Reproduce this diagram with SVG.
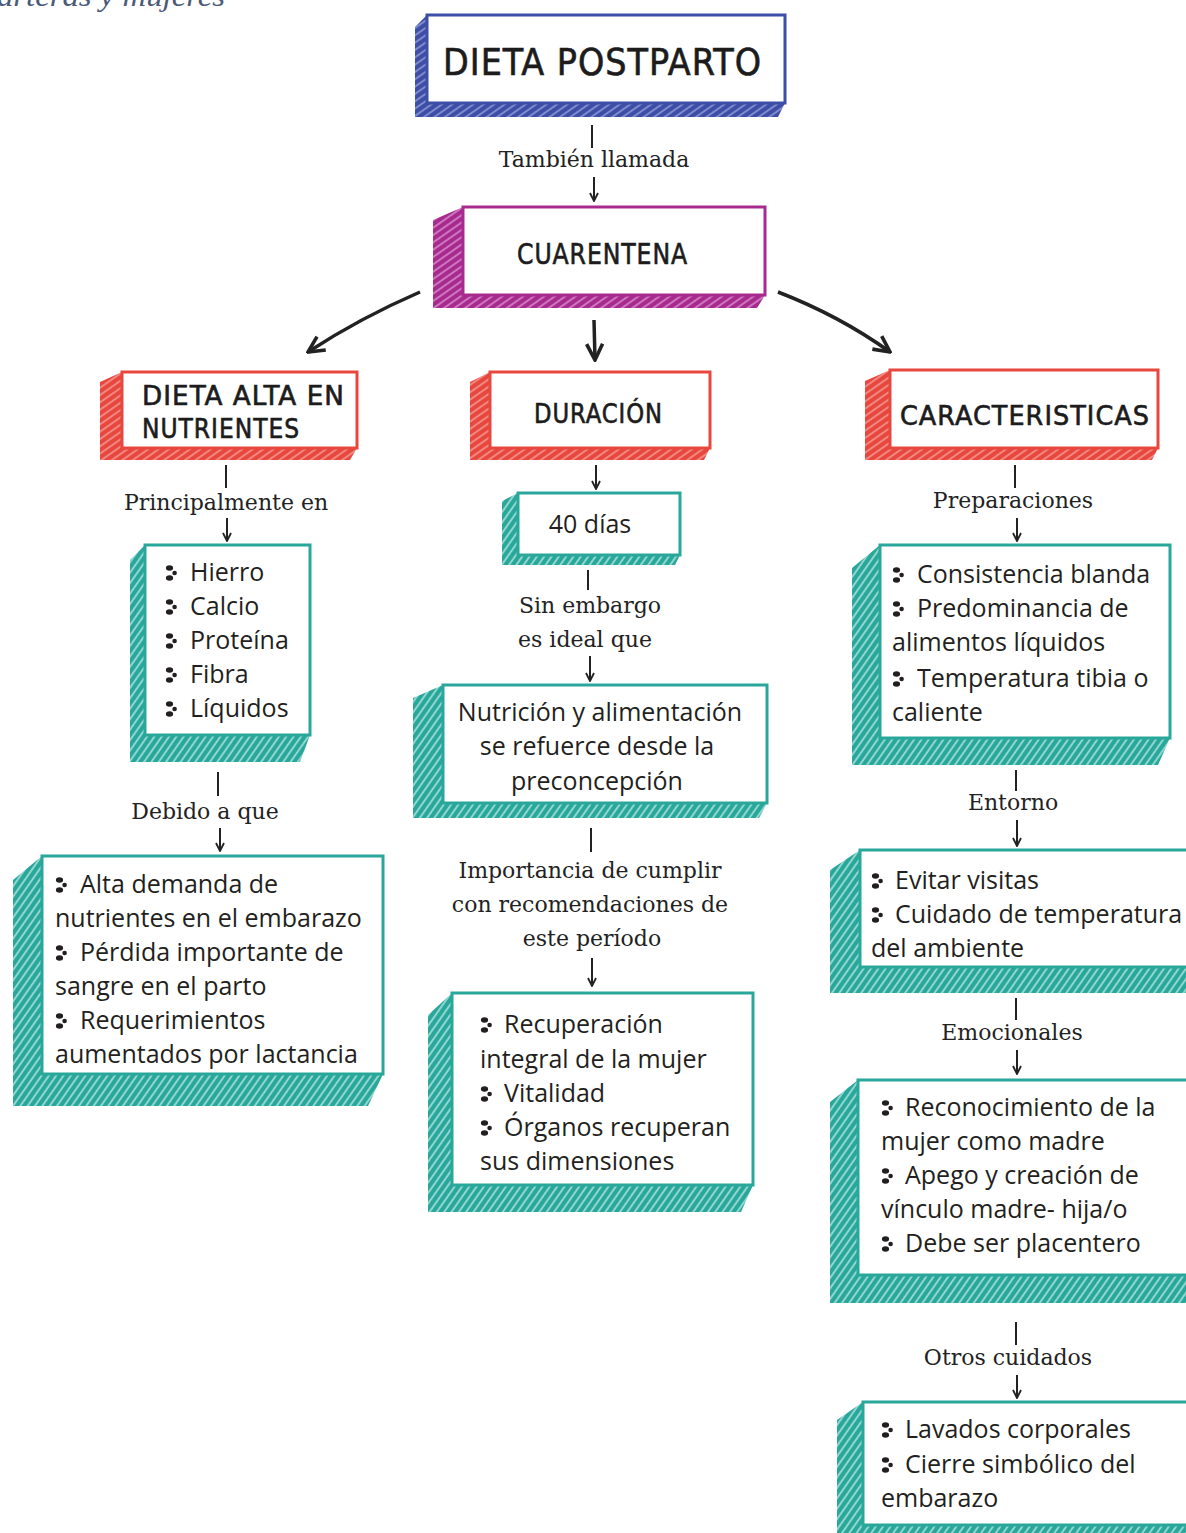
<svg xmlns="http://www.w3.org/2000/svg" width="1186" height="1533" viewBox="0 0 1186 1533">
<defs>
  <pattern id="hb" width="6" height="6" patternUnits="userSpaceOnUse" patternTransform="rotate(-35)"><rect width="6" height="6" fill="#3d4ea6"/><line x1="0" y1="3" x2="6" y2="3" stroke="#aab3e6" stroke-width="1.2"/></pattern>
  <pattern id="hm" width="6" height="6" patternUnits="userSpaceOnUse" patternTransform="rotate(-35)"><rect width="6" height="6" fill="#a72a8f"/><line x1="0" y1="3" x2="6" y2="3" stroke="#e9a8dc" stroke-width="1.2"/></pattern>
  <pattern id="hr" width="6" height="6" patternUnits="userSpaceOnUse" patternTransform="rotate(-35)"><rect width="6" height="6" fill="#e8473e"/><line x1="0" y1="3" x2="6" y2="3" stroke="#f7b3ad" stroke-width="1.2"/></pattern>
  <pattern id="ht" width="6" height="6" patternUnits="userSpaceOnUse" patternTransform="rotate(-55)"><rect width="6" height="6" fill="#2aa79b"/><line x1="0" y1="3" x2="6" y2="3" stroke="#c4f0ea" stroke-width="1.3"/></pattern>
  <marker id="ah" viewBox="0 0 10 10" refX="9" refY="5" markerWidth="10" markerHeight="10" markerUnits="userSpaceOnUse" orient="auto"><path d="M1,1 L9,5 L1,9" fill="none" stroke="#222" stroke-width="1.8"/></marker>
  <marker id="ahb" viewBox="0 0 10 10" refX="9" refY="5" markerWidth="20" markerHeight="20" markerUnits="userSpaceOnUse" orient="auto"><path d="M1,1 L9,5 L1,9" fill="none" stroke="#222" stroke-width="1.8"/></marker>
  <symbol id="bul" viewBox="0 0 12 18" overflow="visible">
    <ellipse cx="4.5" cy="4" rx="3.6" ry="2.8" fill="#231f20"/>
    <circle cx="9.6" cy="9" r="2.3" fill="#231f20"/>
    <ellipse cx="4.5" cy="14" rx="3.6" ry="2.8" fill="#231f20"/>
  </symbol>
  <style>
    .front{fill:#fff;stroke-width:3}
    .fb{stroke:#3d4ea6}.fm{stroke:#a72a8f}.fr{stroke:#e8473e}.ft{stroke:#2aa79b}
    .head{font-family:"DejaVu Sans Condensed","DejaVu Sans",sans-serif;fill:#1c1c1c;letter-spacing:1px;stroke:#1c1c1c;stroke-width:0.6}
    .body{font-family:"Open Sans","Noto Sans",sans-serif;font-size:25px;fill:#231f20}
    .c{text-anchor:middle}
    .lbl{font-family:"DejaVu Serif","Liberation Serif",serif;font-size:22px;fill:#222;text-anchor:middle}
    .ln{stroke:#222;stroke-width:2;fill:none}
    .big{stroke:#222;stroke-width:3.5;fill:none}
  </style>
</defs>

<text x="-3" y="6" font-family="Liberation Serif, serif" font-style="italic" font-size="30" fill="#4a5a78" textLength="228" lengthAdjust="spacingAndGlyphs">arteras y mujeres</text>

<g id="title">
  <polygon points="427,15 415,27 415,117 778,117 785,103" fill="url(#hb)"/>
  <rect class="front fb" x="427" y="15" width="358" height="88"/>
  <text class="head" x="443" y="75" font-size="37" textLength="319" lengthAdjust="spacingAndGlyphs">DIETA POSTPARTO</text>
</g>

<g id="cuarentena">
  <polygon points="463,207 433,220 433,308 757,308 765,295" fill="url(#hm)"/>
  <rect class="front fm" x="463" y="207" width="302" height="88"/>
  <text class="head" x="517" y="264" font-size="29" textLength="171" lengthAdjust="spacingAndGlyphs">CUARENTENA</text>
</g>

<g id="dieta-alta">
  <polygon points="122,372 100,382 100,460 350,460 357,448" fill="url(#hr)"/>
  <rect class="front fr" x="122" y="372" width="235" height="76"/>
  <text class="head" x="142" y="405" font-size="27" textLength="203" lengthAdjust="spacingAndGlyphs">DIETA ALTA EN</text>
  <text class="head" x="142" y="438" font-size="27" textLength="158" lengthAdjust="spacingAndGlyphs">NUTRIENTES</text>
</g>

<g id="duracion">
  <polygon points="490,372 470,382 470,460 704,460 710,448" fill="url(#hr)"/>
  <rect class="front fr" x="490" y="372" width="220" height="76"/>
  <text class="head" x="534" y="423" font-size="27" textLength="129" lengthAdjust="spacingAndGlyphs">DURACIÓN</text>
</g>

<g id="caracteristicas">
  <polygon points="890,370 865,381 865,460 1152,460 1158,448" fill="url(#hr)"/>
  <rect class="front fr" x="890" y="370" width="268" height="78"/>
  <text class="head" x="900" y="425" font-size="27" textLength="250" lengthAdjust="spacingAndGlyphs">CARACTERISTICAS</text>
</g>

<g id="nutrientes-lista">
  <polygon points="145,545 130,560 130,762 300,762 310,735" fill="url(#ht)"/>
  <rect class="front ft" x="145" y="545" width="165" height="190"/>
  <use href="#bul" x="165" y="564" width="12" height="18"/><text class="body" x="190" y="581">Hierro</text>
  <use href="#bul" x="165" y="598" width="12" height="18"/><text class="body" x="190" y="615">Calcio</text>
  <use href="#bul" x="165" y="632" width="12" height="18"/><text class="body" x="190" y="649">Proteína</text>
  <use href="#bul" x="165" y="666" width="12" height="18"/><text class="body" x="190" y="683">Fibra</text>
  <use href="#bul" x="165" y="700" width="12" height="18"/><text class="body" x="190" y="717">Líquidos</text>
</g>

<g id="razones">
  <polygon points="42,856 13,880 13,1106 368,1106 383,1074" fill="url(#ht)"/>
  <rect class="front ft" x="42" y="856" width="341" height="218"/>
  <use href="#bul" x="55" y="876" width="12" height="18"/><text class="body" x="80" y="893">Alta demanda de</text>
  <text class="body" x="55" y="927">nutrientes en el embarazo</text>
  <use href="#bul" x="55" y="944" width="12" height="18"/><text class="body" x="80" y="961">Pérdida importante de</text>
  <text class="body" x="55" y="995">sangre en el parto</text>
  <use href="#bul" x="55" y="1012" width="12" height="18"/><text class="body" x="80" y="1029">Requerimientos</text>
  <text class="body" x="55" y="1063">aumentados por lactancia</text>
</g>

<g id="dias">
  <polygon points="518,493 502,501 502,565 675,565 680,555" fill="url(#ht)"/>
  <rect class="front ft" x="518" y="493" width="162" height="62"/>
  <text class="body c" x="590" y="533">40 días</text>
</g>

<g id="nutricion">
  <polygon points="443,685 413,698 413,818 759,818 767,803" fill="url(#ht)"/>
  <rect class="front ft" x="443" y="685" width="324" height="118"/>
  <text class="body c" x="600" y="721">Nutrición y alimentación</text>
  <text class="body c" x="597" y="755">se refuerce desde la</text>
  <text class="body c" x="597" y="790">preconcepción</text>
</g>

<g id="recuperacion">
  <polygon points="452,993 428,1015 428,1212 741,1212 753,1185" fill="url(#ht)"/>
  <rect class="front ft" x="452" y="993" width="301" height="192"/>
  <use href="#bul" x="480" y="1016" width="12" height="18"/><text class="body" x="504" y="1033">Recuperación</text>
  <text class="body" x="480" y="1068">integral de la mujer</text>
  <use href="#bul" x="480" y="1085" width="12" height="18"/><text class="body" x="504" y="1102">Vitalidad</text>
  <use href="#bul" x="480" y="1119" width="12" height="18"/><text class="body" x="504" y="1136">Órganos recuperan</text>
  <text class="body" x="480" y="1170">sus dimensiones</text>
</g>

<g id="preparaciones">
  <polygon points="880,545 852,568 852,765 1158,765 1170,738" fill="url(#ht)"/>
  <rect class="front ft" x="880" y="545" width="290" height="193"/>
  <use href="#bul" x="892" y="566" width="12" height="18"/><text class="body" x="917" y="583">Consistencia blanda</text>
  <use href="#bul" x="892" y="600" width="12" height="18"/><text class="body" x="917" y="617">Predominancia de</text>
  <text class="body" x="892" y="651">alimentos líquidos</text>
  <use href="#bul" x="892" y="670" width="12" height="18"/><text class="body" x="917" y="687">Temperatura tibia o</text>
  <text class="body" x="892" y="721">caliente</text>
</g>

<g id="entorno">
  <polygon points="860,850 830,870 830,993 1186,993 1190,967" fill="url(#ht)"/>
  <rect class="front ft" x="860" y="850" width="332" height="117"/>
  <use href="#bul" x="871" y="872" width="12" height="18"/><text class="body" x="895" y="889">Evitar visitas</text>
  <use href="#bul" x="871" y="906" width="12" height="18"/><text class="body" x="895" y="923">Cuidado de temperatura</text>
  <text class="body" x="871" y="957">del ambiente</text>
</g>

<g id="emocionales">
  <polygon points="858,1080 830,1102 830,1303 1186,1303 1190,1275" fill="url(#ht)"/>
  <rect class="front ft" x="858" y="1080" width="334" height="195"/>
  <use href="#bul" x="881" y="1099" width="12" height="18"/><text class="body" x="905" y="1116">Reconocimiento de la</text>
  <text class="body" x="881" y="1150">mujer como madre</text>
  <use href="#bul" x="881" y="1167" width="12" height="18"/><text class="body" x="905" y="1184">Apego y creación de</text>
  <text class="body" x="881" y="1218">vínculo madre- hija/o</text>
  <use href="#bul" x="881" y="1235" width="12" height="18"/><text class="body" x="905" y="1252">Debe ser placentero</text>
</g>

<g id="otros">
  <polygon points="863,1402 837,1420 837,1545 1186,1545 1190,1525" fill="url(#ht)"/>
  <rect class="front ft" x="863" y="1402" width="329" height="123"/>
  <use href="#bul" x="881" y="1421" width="12" height="18"/><text class="body" x="905" y="1438">Lavados corporales</text>
  <use href="#bul" x="881" y="1456" width="12" height="18"/><text class="body" x="905" y="1473">Cierre simbólico del</text>
  <text class="body" x="881" y="1507">embarazo</text>
</g>

<g id="connectors">
  <line class="ln" x1="592" y1="125" x2="592" y2="148"/>
  <text class="lbl" x="594" y="167">También llamada</text>
  <line class="ln" x1="594" y1="177" x2="594" y2="201" marker-end="url(#ah)"/>

  <path class="big" d="M420,292 Q360,318 308,352" marker-end="url(#ahb)"/>
  <path class="big" d="M594,320 L595,360" marker-end="url(#ahb)"/>
  <path class="big" d="M778,292 Q840,316 890,352" marker-end="url(#ahb)"/>

  <line class="ln" x1="226" y1="465" x2="226" y2="488"/>
  <text class="lbl" x="226" y="510">Principalmente en</text>
  <line class="ln" x1="227" y1="518" x2="227" y2="541" marker-end="url(#ah)"/>

  <line class="ln" x1="596" y1="465" x2="596" y2="489" marker-end="url(#ah)"/>

  <line class="ln" x1="588" y1="570" x2="588" y2="590"/>
  <text class="lbl" x="590" y="613">Sin embargo</text>
  <text class="lbl" x="585" y="647">es ideal que</text>
  <line class="ln" x1="590" y1="656" x2="590" y2="681" marker-end="url(#ah)"/>

  <line class="ln" x1="218" y1="772" x2="218" y2="796"/>
  <text class="lbl" x="205" y="819">Debido a que</text>
  <line class="ln" x1="220" y1="828" x2="220" y2="851" marker-end="url(#ah)"/>

  <line class="ln" x1="591" y1="828" x2="591" y2="852"/>
  <text class="lbl" x="590" y="878">Importancia de cumplir</text>
  <text class="lbl" x="590" y="912">con recomendaciones de</text>
  <text class="lbl" x="592" y="946">este período</text>
  <line class="ln" x1="592" y1="958" x2="592" y2="986" marker-end="url(#ah)"/>

  <line class="ln" x1="1015" y1="465" x2="1015" y2="488"/>
  <text class="lbl" x="1013" y="508">Preparaciones</text>
  <line class="ln" x1="1017" y1="518" x2="1017" y2="541" marker-end="url(#ah)"/>

  <line class="ln" x1="1016" y1="770" x2="1016" y2="791"/>
  <text class="lbl" x="1013" y="810">Entorno</text>
  <line class="ln" x1="1017" y1="820" x2="1017" y2="846" marker-end="url(#ah)"/>

  <line class="ln" x1="1016" y1="998" x2="1016" y2="1020"/>
  <text class="lbl" x="1012" y="1040">Emocionales</text>
  <line class="ln" x1="1017" y1="1050" x2="1017" y2="1074" marker-end="url(#ah)"/>

  <line class="ln" x1="1016" y1="1322" x2="1016" y2="1345"/>
  <text class="lbl" x="1008" y="1365">Otros cuidados</text>
  <line class="ln" x1="1017" y1="1375" x2="1017" y2="1398" marker-end="url(#ah)"/>
</g>
</svg>
